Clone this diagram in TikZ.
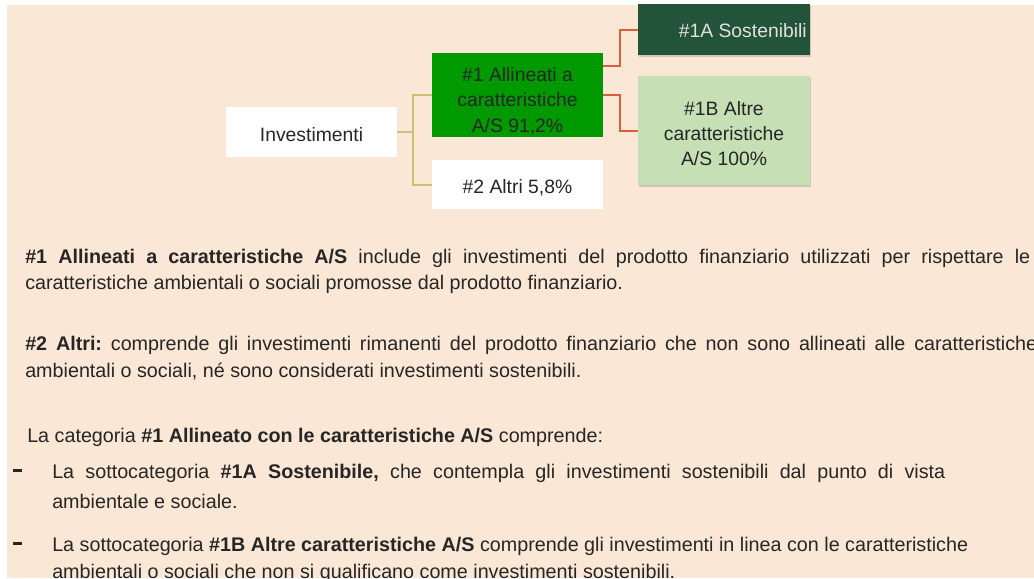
\documentclass[tikz,border=0pt]{standalone}
\usepackage{fontspec}
\setmainfont{Liberation Sans}
\usetikzlibrary{shadows}
\definecolor{peach}{HTML}{FBE7D5}
\definecolor{ink}{HTML}{262626}
\definecolor{green-one}{HTML}{009A00}
\definecolor{green-dark}{HTML}{235439}
\definecolor{green-light}{HTML}{C6DFB4}
\definecolor{olive-line}{HTML}{CBC175}
\definecolor{red-line}{HTML}{D9603B}
\frenchspacing

\tikzset{
  box/.style={minimum width=128.25pt, inner sep=2pt},
  boxtext/.style={label={[align=center, text=ink, yshift=-2.25pt]center:#1}},
  bodyline/.style={anchor=base west, inner sep=0pt, text=ink, font=\fontsize{14.8}{18}\selectfont},
  shade/.style={drop shadow={opacity=0.35, shadow xshift=0.8pt, shadow yshift=-1.5pt}}
}

\begin{document}
\begin{tikzpicture}[x=0.75pt, y=-0.75pt, every node/.style={font=\fontsize{14.5}{19}\selectfont}]
    \useasboundingbox (0,0) rectangle (1034,578);
    \clip (0,0) rectangle (1034,578);
    \fill[white] (0,0) rectangle (1034,578);
    \fill[peach] (7,5) rectangle (1034,578);

    % tree
    \node[box, fill=white, minimum height=37.5pt, boxtext={Investimenti}] (invest) at (311.5,132) {};
    \node[box, fill=green-one, minimum height=63pt,
      label={[align=center, text=ink, yshift=-4.5pt]center:\#1 Allineati a\\caratteristiche\\A/S 91,2\%}] (allin) at (517.5,95) {};
    \node[box, fill=white, minimum height=36.75pt, boxtext={\#2 Altri 5,8\%}] (altri) at (517.5,184.5) {};
    \node[box, shade, fill=green-dark, minimum width=129pt, minimum height=38.25pt] (sost) at (724,29.5) {};
    \node[anchor=east, text=white!88!black, inner sep=0pt] (sosttxt) at (807,31) {\#1A Sostenibili};
    \node[box, shade, fill=green-light, minimum width=129pt, minimum height=81.75pt,
      boxtext={\#1B Altre\\caratteristiche\\A/S 100\%}] (altreAS) at (724,130.5) {};

    \draw[olive-line, line width=1.5pt] (invest.east) -- ++(12pt,0) |- (allin.west);
    \draw[olive-line, line width=1.5pt] (invest.east) -- ++(12pt,0) |- (altri.west);
    \draw[red-line, line width=1.5pt] ([yshift=21.75pt]allin.east) -- ++(12.75pt,0) |- (sost.west);
    \draw[red-line, line width=1.5pt] (allin.east) -- ++(12.75pt,0) |- (altreAS.west);

    % text below
    \node[bodyline] (l1) at (25,263) {\makebox[753.75pt][s]{\textbf{\#1 Allineati a caratteristiche A/S} include gli investimenti del prodotto finanziario utilizzati per rispettare le}};
    \node[bodyline] (l2) at (25,289) {caratteristiche ambientali o sociali promosse dal prodotto finanziario.};
    \node[bodyline] (l3) at (25,350) {\makebox[759pt][s]{\textbf{\#2 Altri:} comprende gli investimenti rimanenti del prodotto finanziario che non sono allineati alle caratteristiche}};
    \node[bodyline] (l4) at (25,377) {ambientali o sociali, né sono considerati investimenti sostenibili.};
    \node[bodyline] (l5) at (27,442) {La categoria \textbf{\#1 Allineato con le caratteristiche A/S} comprende:};
    \node[bodyline] (d1) at (13,478) {\rule[4.6pt]{6.5pt}{2.2pt}};
    \node[bodyline] (l6) at (52,478) {\makebox[669.75pt][s]{La sottocategoria \textbf{\#1A Sostenibile,} che contempla gli investimenti sostenibili dal punto di vista}};
    \node[bodyline] (l7) at (52,508) {ambientale e sociale.};
    \node[bodyline] (d2) at (13,551) {\rule[4.6pt]{6.5pt}{2.2pt}};
    \node[bodyline] (l8) at (52,551) {La sottocategoria \textbf{\#1B Altre caratteristiche A/S} comprende gli investimenti in linea con le caratteristiche};
    \node[bodyline] (l9) at (52,578) {ambientali o sociali che non si qualificano come investimenti sostenibili.};
\end{tikzpicture}
\end{document}
